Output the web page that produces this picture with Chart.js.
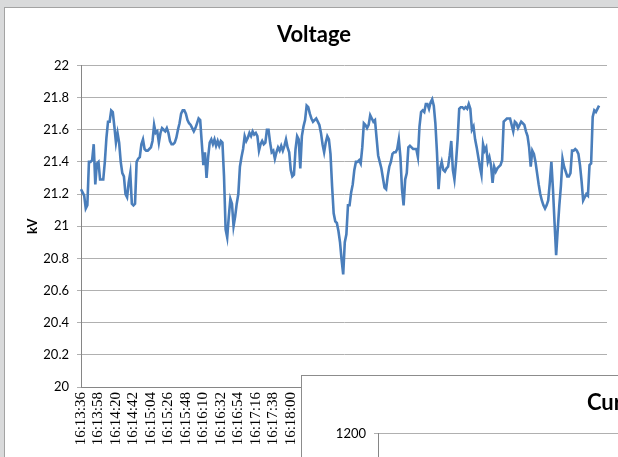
<!DOCTYPE html>
<html>
<head>
<meta charset="utf-8">
<script src="https://cdn.jsdelivr.net/npm/chart.js@4.4.1/dist/chart.umd.min.js"></script>
<style>
  html, body { margin: 0; padding: 0; }
  body { width: 618px; height: 457px; overflow: hidden; background: #d9dadb; position: relative; }
  .frame { position: absolute; background: #fff; border-left: 1px solid #a3a3a3; border-top: 1px solid #a3a3a3; }
  #voltFrame { left: 4px; top: 7px; width: 660px; height: 480px; }
  #curFrame { left: 301px; top: 375px; width: 680px; height: 480px; border-left-color: #8c8c8c; border-top-color: #8c8c8c; }
  canvas { position: absolute; left: 0; top: 0; }
</style>
</head>
<body>
<div class="frame" id="voltFrame"><canvas id="voltage" width="613" height="449"></canvas></div>
<div class="frame" id="curFrame"><canvas id="current" width="640" height="449"></canvas></div>
<script>
// samples every 2 s starting at 16:13:36
const startTime = '16:13:36';
const stepSeconds = 2;
const spareSlots = 5;

const tickLabels = ['16:13:36', '16:13:58', '16:14:20', '16:14:42', '16:15:04', '16:15:26', '16:15:48',
  '16:16:10', '16:16:32', '16:16:54', '16:17:16', '16:17:38', '16:18:00'];

// kV, one row per 22 s label interval
const voltage = [
  21.23, 21.21, 21.19, 21.11, 21.13, 21.40, 21.40, 21.41, 21.51, 21.26, 21.39,
  21.40, 21.29, 21.29, 21.29, 21.40, 21.55, 21.65, 21.65, 21.72, 21.71, 21.62,
  21.52, 21.58, 21.52, 21.40, 21.33, 21.31, 21.20, 21.18, 21.27, 21.33, 21.14,
  21.13, 21.14, 21.40, 21.42, 21.43, 21.51, 21.54, 21.48, 21.47, 21.47, 21.48,
  21.49, 21.53, 21.63, 21.58, 21.59, 21.52, 21.58, 21.61, 21.60, 21.59, 21.61,
  21.58, 21.53, 21.51, 21.51, 21.52, 21.55, 21.60, 21.64, 21.70, 21.72, 21.72,
  21.70, 21.66, 21.64, 21.63, 21.61, 21.59, 21.61, 21.64, 21.67, 21.66, 21.52,
  21.38, 21.46, 21.30, 21.43, 21.52, 21.54, 21.51, 21.54, 21.50, 21.53, 21.50,
  21.53, 21.52, 21.31, 20.98, 20.93, 21.06, 21.17, 21.14, 21.00, 21.06, 21.14,
  21.20, 21.37, 21.43, 21.48, 21.56, 21.53, 21.55, 21.58, 21.56, 21.59, 21.57,
  21.58, 21.56, 21.47, 21.51, 21.53, 21.51, 21.52, 21.60, 21.60, 21.52, 21.46,
  21.47, 21.42, 21.46, 21.49, 21.47, 21.50, 21.47, 21.50, 21.54, 21.49, 21.46,
  21.35, 21.31, 21.32, 21.48, 21.56, 21.54, 21.36, 21.56, 21.62, 21.66, 21.75,
  21.74, 21.70, 21.67, 21.65, 21.66, 21.67, 21.65, 21.63, 21.58, 21.51, 21.46,
  21.52, 21.56, 21.54, 21.45, 21.25, 21.08, 21.03, 21.02, 20.97, 20.90, 20.79,
  20.70, 20.90, 20.95, 21.13, 21.13, 21.21, 21.26, 21.35, 21.40, 21.40, 21.41,
  21.39, 21.49, 21.64, 21.63, 21.61, 21.63, 21.69, 21.67, 21.65, 21.66, 21.55,
  21.44, 21.40, 21.36, 21.30, 21.24, 21.23, 21.31, 21.37, 21.40, 21.45, 21.46,
  21.46, 21.48, 21.54, 21.43, 21.23, 21.13, 21.29, 21.33, 21.49, 21.50, 21.49,
  21.48, 21.48, 21.48, 21.43, 21.62, 21.71, 21.72, 21.71, 21.76, 21.76, 21.73,
  21.77, 21.79, 21.75, 21.64, 21.46, 21.23, 21.36, 21.40, 21.35, 21.34, 21.36,
  21.37, 21.44, 21.53, 21.35, 21.29, 21.40, 21.54, 21.73, 21.74, 21.74, 21.73,
  21.74, 21.73, 21.76, 21.73, 21.60, 21.62, 21.54, 21.49, 21.43, 21.37, 21.32,
  21.51, 21.47, 21.49, 21.40, 21.43, 21.38, 21.27, 21.37, 21.34, 21.36, 21.37,
  21.38, 21.41, 21.65, 21.66, 21.67, 21.67, 21.67, 21.63, 21.59, 21.65, 21.64,
  21.61, 21.63, 21.65, 21.64, 21.63, 21.59, 21.56, 21.49, 21.37, 21.47, 21.45,
  21.40, 21.33, 21.26, 21.20, 21.16, 21.13, 21.11, 21.13, 21.16, 21.27, 21.40,
  21.23, 21.02, 20.82, 20.98, 21.13, 21.25, 21.42, 21.37, 21.34, 21.31, 21.31,
  21.33, 21.47, 21.47, 21.48, 21.47, 21.45, 21.38, 21.28, 21.16, 21.18, 21.20,
  21.19, 21.38, 21.39, 21.68, 21.72, 21.71, 21.73, 21.75
];

const currentMax = 1200;

function pad(n) { return String(n).padStart(2, '0'); }

const [h0, m0, s0] = startTime.split(':').map(Number);
const times = [];
for (let i = 0; i < voltage.length + spareSlots; i++) {
  const t = h0 * 3600 + m0 * 60 + s0 + i * stepSeconds;
  times.push(pad(Math.floor(t / 3600)) + ':' + pad(Math.floor(t / 60) % 60) + ':' + pad(t % 60));
}

Chart.defaults.font.family = 'Lato';
Chart.defaults.color = '#000';

function baseOptions(title) {
  return {
    responsive: false,
    animation: false,
    events: [],
    layout: { padding: { left: 16, right: 11, top: 0, bottom: 0 } },
    plugins: {
      legend: { display: false },
      tooltip: { enabled: false },
      title: {
        display: true,
        text: title,
        font: { size: 22, weight: 'bold' },
        padding: { top: 14, bottom: 17 }
      }
    }
  };
}

// x axis: fixed height, no extra side padding for the rotated labels
function fitX(s) {
  s.height = 70;
  s.paddingLeft = 0;
  s.paddingRight = 0;
}

const voltOpts = baseOptions('Voltage');
voltOpts.scales = {
  x: {
    grid: { display: false, drawTicks: false },
    border: { color: '#868686' },
    ticks: {
      autoSkip: false,
      minRotation: 90,
      maxRotation: 90,
      padding: 5,
      font: { family: 'Liberation Serif', size: 15 },
      callback: (v, i) => tickLabels.includes(times[i]) ? times[i] : ''
    },
    afterFit: fitX
  },
  y: {
    min: 20,
    max: 22,
    grid: { color: '#b0b0b0', tickLength: 4 },
    border: { color: '#868686' },
    ticks: { stepSize: 0.2, padding: 8, font: { size: 13 }, callback: v => String(Math.round(v * 10) / 10) },
    title: { display: true, text: 'kV', font: { size: 13, weight: 'bold' }, padding: { top: 4, bottom: 4 } },
    afterFit: s => { s.width = 60; }
  }
};

new Chart(document.getElementById('voltage'), {
  type: 'line',
  data: {
    labels: times,
    datasets: [{
      label: 'Voltage',
      data: voltage,
      borderColor: '#4a7ebb',
      borderWidth: 2.6,
      pointRadius: 0,
      tension: 0,
      fill: false
    }]
  },
  options: voltOpts
});

const curOpts = baseOptions('Current');
curOpts.scales = {
  x: {
    grid: { display: false, drawTicks: false },
    border: { color: '#868686' },
    ticks: { display: false },
    afterFit: fitX
  },
  y: {
    min: 0,
    max: currentMax,
    grid: { color: '#b0b0b0', tickLength: 4 },
    border: { color: '#868686' },
    ticks: { stepSize: 200, padding: 8, font: { size: 13 }, callback: v => String(v) },
    afterFit: s => { s.width = 60; }
  }
};

new Chart(document.getElementById('current'), {
  type: 'line',
  data: { labels: times, datasets: [] },
  options: curOpts
});
</script>
</body>
</html>
